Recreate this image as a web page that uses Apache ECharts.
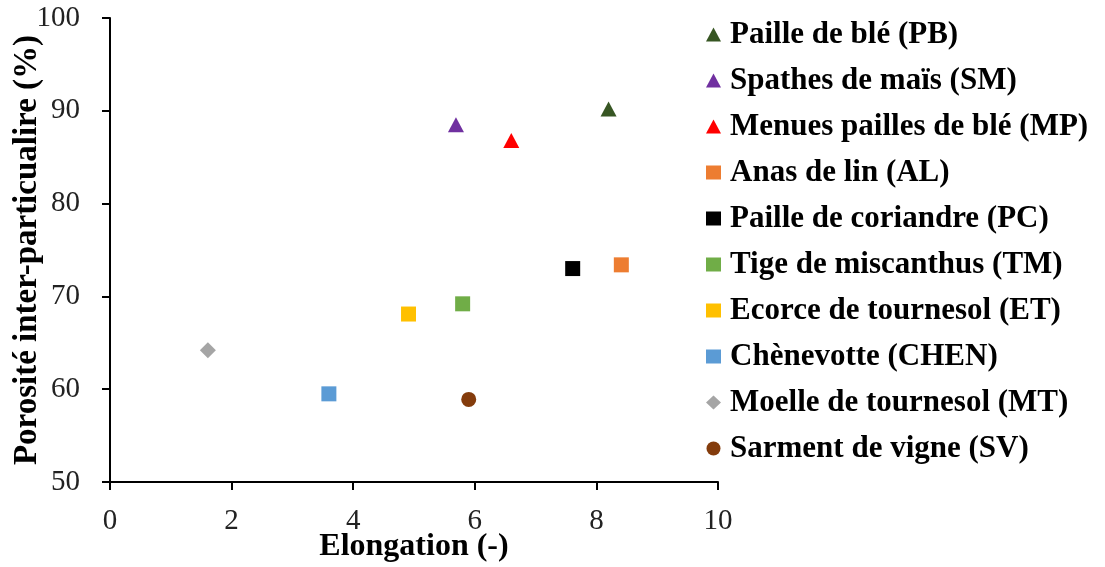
<!DOCTYPE html>
<html><head><meta charset="utf-8">
<script src="https://cdn.jsdelivr.net/npm/echarts@6/dist/echarts.min.js"></script>
<style>html,body{margin:0;padding:0;background:#fff}#c{width:1105px;height:567px}</style>
</head><body><div id="c"></div>
<script>
const names = ["Paille de blé (PB)","Spathes de maïs (SM)","Menues pailles de blé (MP)","Anas de lin (AL)","Paille de coriandre (PC)","Tige de miscanthus (TM)","Ecorce de tournesol (ET)","Chènevotte (CHEN)","Moelle de tournesol (MT)","Sarment de vigne (SV)"];
const elongation = [8.2, 5.69, 6.6, 8.41, 7.61, 5.8, 4.91, 3.6, 1.61, 5.9];
const porosity = [90.2, 88.5, 86.8, 73.4, 73.0, 69.2, 68.1, 59.5, 64.2, 58.9];
const colors = ["#375623","#7030A0","#FF0000","#ED7D31","#000000","#70AD47","#FFC000","#5B9BD5","#A5A5A5","#843C0C"];
const symbols = ["triangle","triangle","triangle","rect","rect","rect","rect","rect","diamond","circle"];
const xTicks = [0,2,4,6,8,10];
const yTicks = [50,60,70,80,90,100];

const font = "'Liberation Serif','Times New Roman',serif";
const chart = echarts.init(document.getElementById('c'));
const series = names.map((n,i)=>({
  name:n, type:'scatter', data:[[elongation[i],porosity[i]]],
  symbol:symbols[i], symbolSize: symbols[i]==='diamond'?16:(symbols[i]==='triangle'?[16,15]:15),
  itemStyle:{color:colors[i],opacity:1}
}));
chart.setOption({
  animation:false,
  grid:{left:110,right:387,top:18,bottom:85,containLabel:false,outerBoundsMode:'none'},
  xAxis:{type:'value',min:xTicks[0],max:xTicks[xTicks.length-1],interval:2,name:'Elongation (-)',nameLocation:'middle',nameGap:49,nameMoveOverlap:false,
    nameTextStyle:{fontFamily:font,fontWeight:'bold',fontSize:32,color:'#000'},
    axisLine:{lineStyle:{color:'#000',width:2}},axisTick:{show:true,length:8,lineStyle:{color:'#000',width:2}},
    axisLabel:{fontFamily:font,fontSize:29,color:'#222',margin:25},splitLine:{show:false}},
  yAxis:{type:'value',min:yTicks[0],max:yTicks[yTicks.length-1],interval:10,name:'Porosité inter-particualire (%)',nameLocation:'middle',nameGap:66,nameMoveOverlap:false,
    nameTextStyle:{fontFamily:font,fontWeight:'bold',fontSize:33,color:'#000'},
    axisLine:{show:true,lineStyle:{color:'#000',width:2}},axisTick:{show:true,length:8,lineStyle:{color:'#000',width:2}},
    axisLabel:{fontFamily:font,fontSize:29,color:'#222',margin:30},splitLine:{show:false}},
  legend:{orient:'vertical',left:701,top:14,itemWidth:15,itemHeight:14,itemGap:15,
    textStyle:{fontFamily:font,fontWeight:'bold',fontSize:31,color:'#000',lineHeight:28,padding:[0,0,0,4]}},
  series:series
});
</script></body></html>
